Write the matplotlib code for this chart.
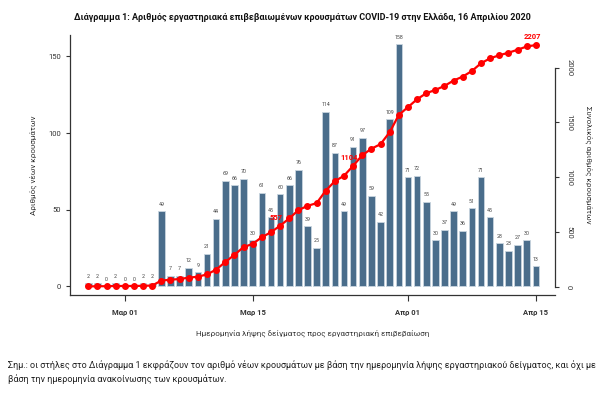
import numpy as np
import pandas as pd
import matplotlib
matplotlib.use("Agg")
import matplotlib.pyplot as plt

# ----------------------------------------------------------------------
START_DATE = "2020-02-26"
NEW_CASES = [2, 2, 0, 2, 0, 0, 2, 2, 49, 7, 7, 12, 9, 21, 44, 69, 66, 70, 30, 61,
             45, 60, 66, 76, 39, 25, 114, 87, 49, 91, 97, 59, 42, 109, 158, 71, 72,
             55, 30, 37, 49, 36, 51, 71, 45, 28, 23, 27, 30, 13]
CUMULATIVE = [2, 4, 4, 6, 6, 6, 8, 10, 56, 63, 70, 82, 91, 112, 156, 225, 291, 361,
              391, 452, 497, 557, 623, 699, 738, 763, 877, 964, 1013, 1104, 1201,
              1260, 1302, 1411, 1569, 1640, 1712, 1767, 1797, 1834, 1883, 1919,
              1970, 2041, 2086, 2114, 2137, 2164, 2194, 2207]
CUM_LABEL_IDX = [21, 29, 49]          # points whose running total is printed
TICK_DATES = ["2020-03-01", "2020-03-15", "2020-04-01", "2020-04-15"]
TICK_LABELS = ["Μαρ 01", "Μαρ 15", "Απρ 01", "Απρ 15"]
LEFT_TICKS = [0, 50, 100, 150]
RIGHT_TICKS = [0, 500, 1000, 1500, 2000]

TITLE = ("Διάγραμμα 1: Αριθμός εργαστηριακά επιβεβαιωμένων κρουσμάτων "
         "COVID-19 στην Ελλάδα, 16 Απριλίου 2020")
XLABEL = "Ημερομηνία λήψης δείγματος προς εργαστηριακή επιβεβαίωση"
YLABEL_L = "Αριθμός νέων κρουσμάτων"
YLABEL_R = "Συνολικός αριθμός κρουσμάτων"
NOTE = ("Σημ.: οι στήλες στο Διάγραμμα 1 εκφράζουν τον αριθμό νέων κρουσμάτων με "
        "βάση την ημερομηνία λήψης εργαστηριακού δείγματος, και όχι με\n"
        "βάση την ημερομηνία ανακοίνωσης των κρουσμάτων.")

BAR_COLOR = "#4a6d8b"
LINE_COLOR = "#ff0000"
AX_COLOR = "#333333"

plt.rcParams.update({"font.family": ["Roboto", "DejaVu Sans"]})

dates = pd.date_range(START_DATE, periods=len(NEW_CASES), freq="D")
one_day = pd.Timedelta(days=1)

fig = plt.figure(figsize=(6.0, 3.99), dpi=100)
ax = fig.add_axes([0.1167, 0.2607, 0.8083, 0.6516])

ax.bar(dates, NEW_CASES, width=0.72, color=BAR_COLOR, edgecolor="#c9d5df",
       linewidth=0.6, zorder=2)
for d, v in zip(dates, NEW_CASES):
    ax.text(d, v + 3, str(v), ha="center", va="bottom", fontsize=3.8,
            color="#444444", zorder=3)

ax.set_xlim(dates[0] - 2.0 * one_day, dates[-1] + 2.1 * one_day)
ax.set_ylim(-5.7, 164)
ax.set_yticks(LEFT_TICKS)
ax.set_xticks(pd.to_datetime(TICK_DATES))
ax.set_xticklabels(TICK_LABELS, fontsize=5.5, fontweight="bold", color=AX_COLOR)
ax.tick_params(axis="y", labelsize=5.5, colors=AX_COLOR, length=3, width=0.8)
ax.tick_params(axis="x", length=4, width=0.8, pad=6, colors=AX_COLOR)
ax.set_xlabel(XLABEL, fontsize=5.8, color=AX_COLOR, labelpad=10)
ax.set_ylabel(YLABEL_L, fontsize=5.8, color=AX_COLOR, labelpad=8)
for s in ["top", "right"]:
    ax.spines[s].set_visible(False)
for s in ["left", "bottom"]:
    ax.spines[s].set_color(AX_COLOR)
    ax.spines[s].set_linewidth(0.9)

ax2 = ax.twinx()
ax2.plot(dates, CUMULATIVE, color=LINE_COLOR, lw=1.6, marker="o",
         markersize=4.0, zorder=4)
for i in CUM_LABEL_IDX:
    ax2.text(dates[i] - 0.4 * one_day, CUMULATIVE[i] + 45, str(CUMULATIVE[i]),
             ha="center", va="bottom", fontsize=5.5, fontweight="bold",
             color=LINE_COLOR, zorder=5)
ax2.set_ylim(-76, 2299)
ax2.set_yticks(RIGHT_TICKS)
ax2.set_yticklabels([str(t) for t in RIGHT_TICKS], rotation=270, va="center")
ax2.tick_params(axis="y", labelsize=5.5, colors=AX_COLOR, length=3, width=0.8, pad=5)
ax2.set_ylabel(YLABEL_R, fontsize=5.8, color=AX_COLOR, rotation=270, labelpad=15)
for s in ["top", "left", "bottom"]:
    ax2.spines[s].set_visible(False)
ax2.spines["right"].set_bounds(0, 2000)
ax2.spines["right"].set_color(AX_COLOR)
ax2.spines["right"].set_linewidth(0.9)

fig.text(0.504, 0.955, TITLE, ha="center", va="center", fontsize=6.5,
         fontweight="bold", color="#111111")
fig.text(0.013, 0.068, NOTE, ha="left", va="center", fontsize=6.5,
         color="#222222", linespacing=1.5)

fig.savefig("out.png", dpi=100)
